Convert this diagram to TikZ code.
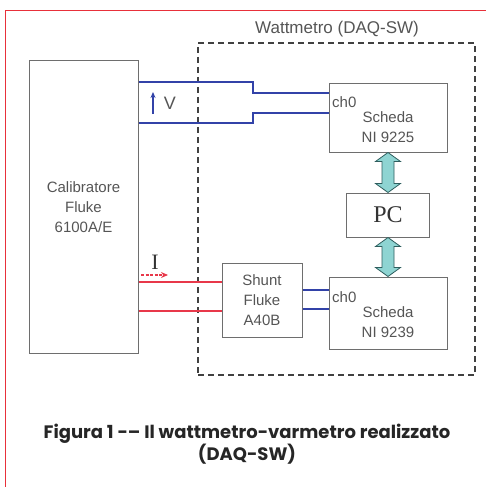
\documentclass[tikz,border=0pt]{standalone}
\usepackage{fontspec}
\setmainfont{Liberation Sans}
\newfontfamily\seriffont{Liberation Serif}
\newfontfamily\capfont{Poppins}
\usetikzlibrary{calc,arrows.meta}
\definecolor{boxgray}{HTML}{6E6E6E}
\definecolor{txtgray}{HTML}{555555}
\definecolor{wireblue}{HTML}{3242A8}
\definecolor{wirered}{HTML}{E8384A}
\definecolor{framered}{HTML}{E8303A}
\definecolor{teal}{HTML}{8ED4D2}
\definecolor{tealdark}{HTML}{2E5E5E}
\tikzset{
  blk/.style={draw=boxgray, line width=1pt, inner sep=0pt, font=\fontsize{15}{20}\selectfont, text=txtgray, align=center},
  lbl/.style={inner sep=0pt, font=\fontsize{15}{20}\selectfont, text=txtgray},
  vwire/.style={draw=wireblue, line width=2pt},
  swire/.style={draw=wireblue, line width=1.5pt},
  iwire/.style={draw=wirered, line width=2pt},
  fatarrow/.style={fill=teal, draw=tealdark, line width=0.8pt, line join=miter},
  dbox/.style={draw=black!75, line width=1.3pt, dash pattern=on 6pt off 4pt},
}
\newcommand{\fatarr}[2]{\draw[fatarrow] (#1) -- ($(#1)+(12.5,9)$) -- ($(#1)+(6,9)$) -- ($(#2)+(6,-9)$) -- ($(#2)+(12.5,-9)$) -- (#2) -- ($(#2)+(-12.5,-9)$) -- ($(#2)+(-6,-9)$) -- ($(#1)+(-6,9)$) -- ($(#1)+(-12.5,9)$) -- cycle;}
\begin{document}
\begin{tikzpicture}[x=1pt,y=-1pt]
\useasboundingbox (0,0) rectangle (485,487);
% red frame
\draw[framered, line width=1pt] (490,10.5) -- (5.5,10.5) -- (5.5,495);
% dashed box
\node[dbox, minimum width=277pt, minimum height=332pt, inner sep=0pt] (daq) at (336.5,209) {};
\node[lbl, font=\fontsize{17}{18}\selectfont] (daqlbl) at (337,29) {Wattmetro (DAQ-SW)};
% blocks
\node[blk, minimum width=109pt, minimum height=292pt] (cal) at (83.5,207) {Calibratore\\Fluke\\6100A/E};
\node[blk, minimum width=118pt, minimum height=69pt] (s1) at (388,117.5) {};
\node[lbl, anchor=west] (s1ch) at (332,102) {ch0};
\node[lbl, align=center] (s1t) at (388,127) {Scheda\\NI 9225};
\node[blk, minimum width=83pt, minimum height=44pt, font=\seriffont\fontsize{24}{24}\selectfont, text=black!80] (pc) at (388,215) {PC};
\node[blk, minimum width=118pt, minimum height=72pt] (s2) at (388,313) {};
\node[lbl, anchor=west] (s2ch) at (332,297) {ch0};
\node[lbl, align=center] (s2t) at (388,322.5) {Scheda\\NI 9239};
\node[blk, minimum width=80pt, minimum height=74pt] (sh) at (262,300) {Shunt\\Fluke\\A40B};
% fat arrows
\fatarr{s1.south}{pc.north}
\fatarr{pc.south}{s2.north}
% voltage wires
\draw[vwire] (cal.east |- 0,82) -- (253,82) |- (s1.west |- 0,93);
\draw[vwire] (cal.east |- 0,123) -- (253,123) |- (s1.west |- 0,113);
\coordinate (va) at (153,114);
\coordinate (vb) at (153,92);
\draw[wireblue, line width=1.3pt, -{Stealth[length=6pt,width=5pt]}] (va) -- (vb);
\node[lbl, font=\fontsize{18}{18}\selectfont] (vl) at (170,103) {V};
% current wires
\draw[iwire] (cal.east |- 0,282) -- (sh.west |- 0,282);
\draw[iwire] (cal.east |- 0,311) -- (sh.west |- 0,311);
\coordinate (ia) at (141,275);
\coordinate (ib) at (168,275);
\draw[wirered, line width=1.2pt, dash pattern=on 3pt off 1.5pt, -{Stealth[length=7pt,width=6pt]}] (ia) -- (ib);
\node[inner sep=0pt, font=\seriffont\fontsize{22}{22}\selectfont, text=black!80] (il) at (155,262) {I};
% shunt to scheda 2
\draw[swire] (sh.east |- 0,290) -- (s2.west |- 0,290);
\draw[swire] (sh.east |- 0,309) -- (s2.west |- 0,309);
% caption
\node[inner sep=0pt, align=center, font=\capfont\bfseries\fontsize{18}{21}\selectfont, text=black!85] (cap) at (247,444) {Figura 1 -– Il wattmetro-varmetro realizzato\\(DAQ-SW)};
\end{tikzpicture}
\end{document}
